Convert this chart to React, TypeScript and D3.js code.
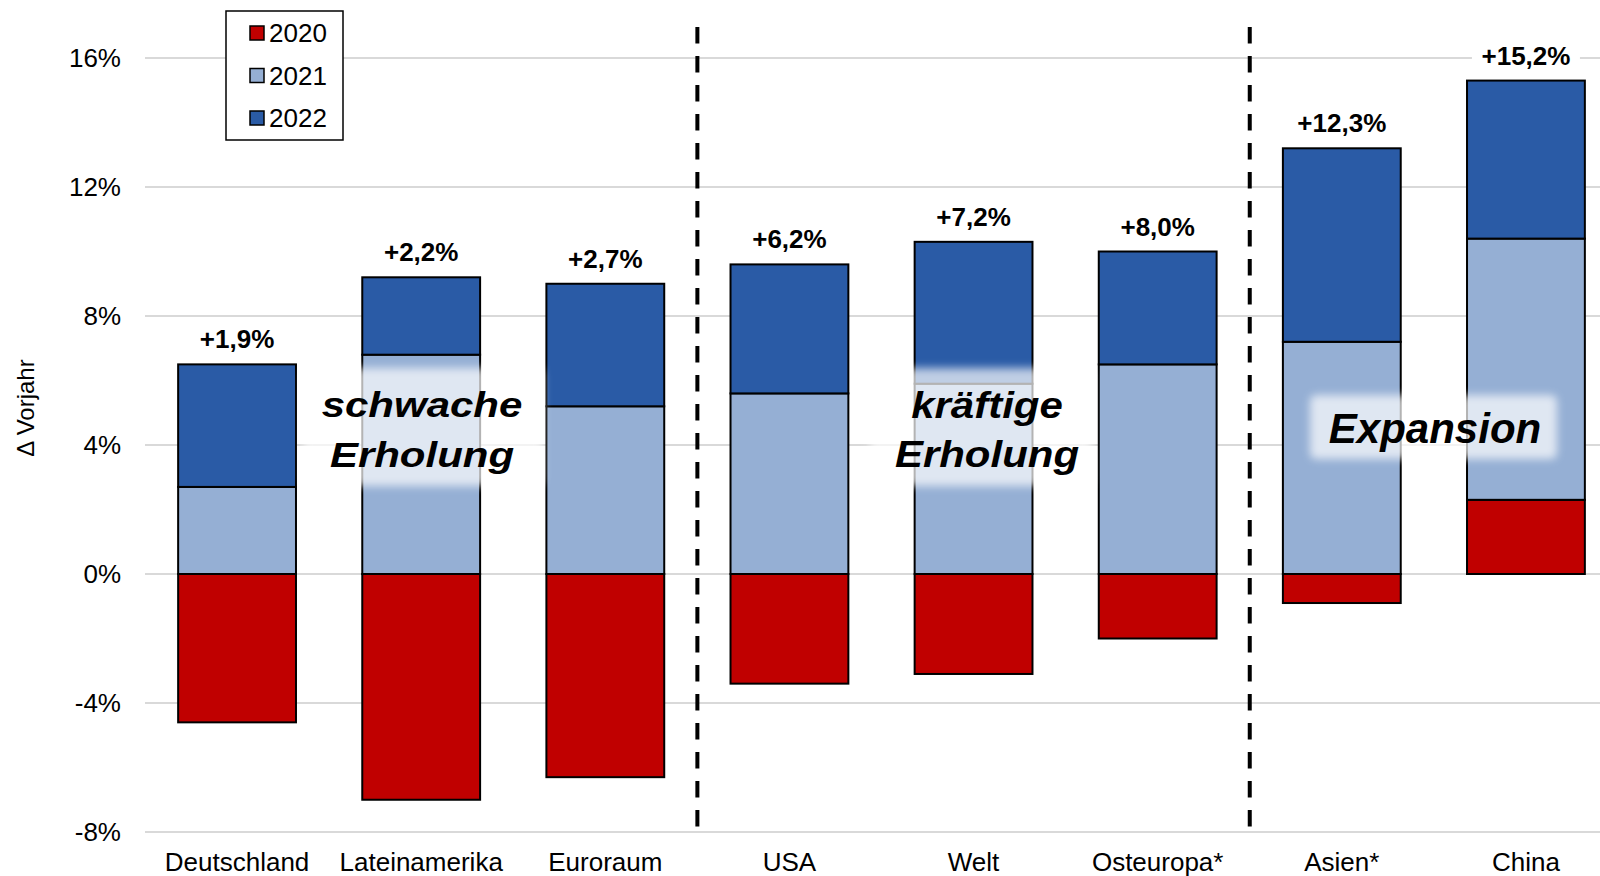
import React from "react";
import * as d3 from "d3";

const categories = ["Deutschland", "Lateinamerika", "Euroraum", "USA", "Welt", "Osteuropa*", "Asien*", "China"];
const years = ["2020", "2021", "2022"];
const values2020 = [-4.6, -7.0, -6.3, -3.4, -3.1, -2.0, -0.9, 2.3];
const values2021 = [2.7, 6.8, 5.2, 5.6, 5.9, 6.5, 7.2, 8.1];
const values2022 = [3.8, 2.4, 3.8, 4.0, 4.4, 3.5, 6.0, 4.9];
const totalLabels = ["+1,9%", "+2,2%", "+2,7%", "+6,2%", "+7,2%", "+8,0%", "+12,3%", "+15,2%"];
const yTicks = [-8, -4, 0, 4, 8, 12, 16];
const colors = ["#C00000", "#95AFD4", "#2A5BA6"];
const groupDividers = [2.5, 5.5]; // between Euroraum|USA and Osteuropa|Asien
const annotations = [
  { lines: ["schwache", "Erholung"], cx: 422, baselines: [417, 467], sx: 1.2, fs: 35, box: [303, 368, 240, 118] },
  { lines: ["kräftige", "Erholung"], cx: 987, baselines: [418, 467], sx: 1.15, fs: 36.5, box: [870, 368, 222, 118] },
  { lines: ["Expansion"], cx: 1435, baselines: [443], sx: 1, fs: 42, box: [1310, 395, 247, 64] },
];

const FONT = "'Liberation Sans', Arial, Helvetica, sans-serif";

export default function App() {
  const W = 1600, H = 876;
  const x = d3.scaleBand<string>().domain(categories).range([145, 1618]).paddingInner(0.36).paddingOuter(0.18);
  const y = d3.scaleLinear().domain([-8, 16]).range([832, 58]);
  const rows = categories.map((c, i) => ({ cat: c, "2020": values2020[i], "2021": values2021[i], "2022": values2022[i] }));
  const series = d3.stack<any>().keys(years).offset(d3.stackOffsetDiverging)(rows);
  const step = x.step();
  const firstCenter = (x(categories[0]) as number) + x.bandwidth() / 2;
  const xAt = (pos: number) => firstCenter + pos * step;

  const tops = categories.map((_, i) => Math.max(...series.map((s) => s[i][1]), 0));

  return (
    <svg width={W} height={H} style={{ position: "fixed", left: 0, top: 0, background: "#fff" }} fontFamily={FONT}>
      <defs>
        <filter id="soft" x="-20%" y="-30%" width="140%" height="160%">
          <feGaussianBlur stdDeviation="4" />
        </filter>
      </defs>
      <rect x={0} y={0} width={W} height={H} fill="#fff" />
      {/* gridlines */}
      {yTicks.map((t) => (
        <line key={t} x1={145} x2={W} y1={y(t)} y2={y(t)} stroke="#D9D9D9" strokeWidth={2} />
      ))}
      {/* y tick labels */}
      {yTicks.map((t) => (
        <text key={"t" + t} x={121} y={y(t) + 9} textAnchor="end" fontSize={26} fill="#000">
          {t + "%"}
        </text>
      ))}
      {/* y axis title */}
      <text transform="translate(34,408) rotate(-90)" textAnchor="middle" fontSize={24} fill="#000">
        Δ Vorjahr
      </text>
      {/* bars */}
      {series.map((s, si) =>
        s.map((d, i) => {
          const y0 = y(Math.max(d[0], d[1]));
          const y1 = y(Math.min(d[0], d[1]));
          return (
            <rect
              key={si + "-" + i}
              x={x(categories[i])}
              y={y0}
              width={x.bandwidth()}
              height={Math.max(0, y1 - y0)}
              fill={colors[si]}
              stroke="#000"
              strokeWidth={2}
            />
          );
        })
      )}
      {/* divider lines */}
      {groupDividers.map((g, k) => {
        const xx = xAt(g);
        return (
          <line key={"dv" + k} x1={xx} x2={xx} y1={27} y2={830} stroke="#000" strokeWidth={4} strokeDasharray="16.5,12.5" />
        );
      })}
      {/* total labels */}
      {categories.map((c, i) => {
        const cx = (x(c) as number) + x.bandwidth() / 2;
        const by = y(tops[i]) - 16;
        return (
          <g key={"lbl" + i}>
            <rect x={cx - 54} y={by - 24} width={108} height={30} fill="#fff" />
            <text x={cx} y={by} textAnchor="middle" fontSize={26} fontWeight="bold" fill="#000">
              {totalLabels[i]}
            </text>
          </g>
        );
      })}
      {/* x labels */}
      {categories.map((c) => (
        <text key={"x" + c} x={(x(c) as number) + x.bandwidth() / 2} y={871} textAnchor="middle" fontSize={26} fill="#000">
          {c}
        </text>
      ))}
      {/* annotations */}
      {annotations.map((a, k) => (
        <g key={"an" + k}>
          <rect x={a.box[0]} y={a.box[1]} width={a.box[2]} height={a.box[3]} rx={6} fill="#fff" opacity={0.7} filter="url(#soft)" />
          {a.lines.map((ln, li) => (
            <text
              key={li}
              transform={`translate(${a.cx},${a.baselines[li]}) scale(${a.sx},1)`}
              textAnchor="middle"
              fontSize={a.fs}
              fontWeight="bold"
              fontStyle="italic"
              fill="#000"
            >
              {ln}
            </text>
          ))}
        </g>
      ))}
      {/* legend */}
      <g>
        <rect x={226} y={11} width={117} height={129} fill="#fff" stroke="#000" strokeWidth={1.5} />
        {years.map((yr, i) => (
          <g key={yr}>
            <rect x={250} y={26 + i * 42.5} width={14} height={14} fill={colors[i]} stroke="#000" strokeWidth={1.5} />
            <text x={269} y={42 + i * 42.5} fontSize={26} fill="#000">
              {yr}
            </text>
          </g>
        ))}
      </g>
    </svg>
  );
}
